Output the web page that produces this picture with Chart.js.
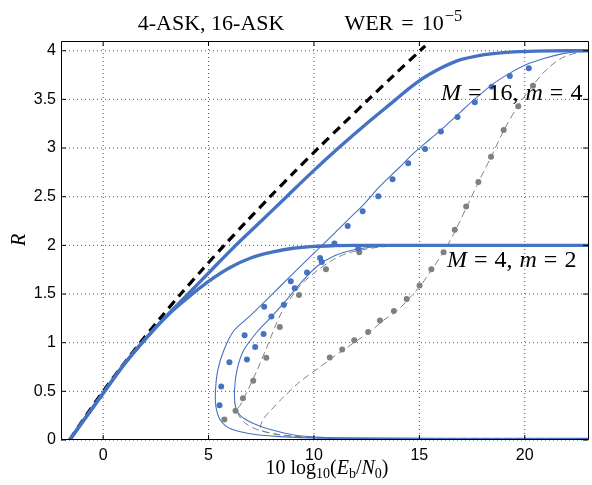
<!DOCTYPE html>
<html>
<head>
<meta charset="utf-8">
<title>4-ASK, 16-ASK rate vs Eb/N0</title>
<script src="https://cdn.jsdelivr.net/npm/chart.js@4.4.0/dist/chart.umd.min.js"></script>
<style>
  html, body { margin: 0; padding: 0; background: #fff; overflow: hidden; }
  canvas { display: block; }
</style>
</head>
<body>
<canvas id="rateChart" width="592" height="485"></canvas>
<script>
// x: 10 log10(Eb/N0) in dB, y: rate R

// Shannon limit (dashed black)
const shannonEbN0 = [-1.59, -0.82, 0, 0.86, 1.76, 2.70, 3.68, 4.70, 5.74, 6.82, 7.92, 9.05, 10.21, 11.39, 12.59, 13.80, 15.03, 15.28];
const shannonRate = [0, 0.25, 0.5, 0.75, 1.0, 1.25, 1.5, 1.75, 2.0, 2.25, 2.5, 2.75, 3.0, 3.25, 3.5, 3.75, 4.0, 4.05];

// constellation-constrained capacity, 16-ASK and 4-ASK (thick blue)
const cap16EbN0 = [-1.59, -1, -0.5, 0, 0.9, 1.86, 2.9, 4.03, 5.15, 6.29, 7.5, 8.7, 9.9, 11.16, 12.49, 13.89, 14.5, 15.06, 15.5, 16.0, 16.5, 17.0, 17.7, 18.5, 19.5, 20.5, 22, 23];
const cap16Rate = [0, 0.18, 0.33, 0.48, 0.75, 1.0, 1.25, 1.5, 1.75, 2.0, 2.25, 2.5, 2.75, 3.0, 3.25, 3.5, 3.61, 3.70, 3.76, 3.82, 3.87, 3.91, 3.945, 3.97, 3.988, 3.996, 4.0, 4.0];
const cap4EbN0 = [-1.59, -1, -0.5, 0, 1, 2, 3, 4, 5, 6, 7, 8, 9, 10, 11, 12, 23];
const cap4Rate = [0, 0.18, 0.33, 0.48, 0.78, 1.04, 1.27, 1.46, 1.63, 1.77, 1.87, 1.93, 1.97, 1.99, 1.997, 2.0, 2.0];

// finite-length curves (thin blue)
const thin16EbN0 = [23, 16, 12, 9.8, 8.24, 6.98, 6.04, 5.57, 5.35, 5.33, 5.44, 5.72, 6.19, 6.89, 7.7, 8.45, 9.2, 10.0, 10.81, 11.6, 12.4, 13.1, 14.0, 14.7, 15.5, 16.2, 17.0, 17.72, 18.5, 19.3, 20.1, 20.9, 21.7, 22.44, 23];
const thin16Rate = [0.008, 0.009, 0.015, 0.022, 0.037, 0.065, 0.116, 0.2, 0.34, 0.51, 0.72, 0.92, 1.12, 1.26, 1.43, 1.59, 1.75, 1.92, 2.09, 2.26, 2.43, 2.6, 2.79, 2.94, 3.09, 3.22, 3.38, 3.52, 3.66, 3.77, 3.86, 3.92, 3.965, 3.99, 4.0];
const thin4EbN0 = [23, 16, 12, 10.59, 9.18, 8.07, 7.13, 6.51, 6.28, 6.23, 6.35, 6.66, 7.3, 8.0, 8.7, 9.4, 10.18, 11.0, 11.9, 13.0, 14.5, 16, 23];
const thin4Rate = [0.017, 0.018, 0.022, 0.026, 0.047, 0.1, 0.17, 0.25, 0.34, 0.51, 0.72, 0.92, 1.11, 1.27, 1.44, 1.62, 1.79, 1.895, 1.955, 1.985, 1.997, 2.0, 2.0];

// finite-length curves, second approximation (gray dashed)
const gray4EbN0 = [23, 12, 10, 8.5, 7.4, 6.7, 6.35, 6.51, 6.9, 7.3, 7.77, 8.45, 9.32, 10.03, 10.81, 11.6, 12.85, 14, 16, 23];
const gray4Rate = [0.012, 0.016, 0.025, 0.05, 0.1, 0.18, 0.3, 0.36, 0.53, 0.716, 0.956, 1.305, 1.58, 1.72, 1.84, 1.92, 1.975, 1.995, 2.0, 2.0];
const gray16EbN0 = [23, 12, 9.5, 8.2, 7.5, 7.45, 7.61, 7.93, 8.55, 9.34, 10.28, 10.9, 11.5, 12.1, 12.7, 13.3, 13.95, 14.5, 15.1, 15.65, 16.2, 16.75, 17.3, 17.85, 18.45, 19.05, 19.7, 20.4, 21.1, 21.8, 22.5, 23];
const gray16Rate = [0.012, 0.016, 0.03, 0.06, 0.1, 0.13, 0.22, 0.3, 0.44, 0.6, 0.75, 0.85, 0.94, 1.03, 1.12, 1.23, 1.33, 1.45, 1.6, 1.77, 1.95, 2.17, 2.42, 2.67, 2.93, 3.2, 3.44, 3.65, 3.82, 3.93, 3.98, 4.0];

// simulated codes (dots)
const dots16BlueEbN0 = [5.52, 5.60, 5.99, 6.71, 7.64, 8.90, 9.67, 10.29, 10.97, 11.60, 12.31, 13.05, 13.73, 14.47, 15.27, 16.02, 16.81, 17.63, 18.43, 19.29, 20.19];
const dots16BlueRate = [0.356, 0.55, 0.80, 1.076, 1.37, 1.63, 1.72, 1.87, 2.02, 2.20, 2.35, 2.505, 2.68, 2.845, 2.99, 3.17, 3.32, 3.47, 3.63, 3.74, 3.82];
const dots4BlueEbN0 = [6.82, 7.21, 7.61, 7.98, 8.57, 9.09, 10.37, 12.10];
const dots4BlueRate = [0.826, 0.956, 1.09, 1.27, 1.39, 1.56, 1.83, 1.965];
const dots4GrayEbN0 = [5.75, 6.28, 6.63, 7.12, 7.74, 8.38, 9.29, 10.57, 12.15];
const dots4GrayRate = [0.21, 0.30, 0.43, 0.61, 0.845, 1.16, 1.49, 1.755, 1.93];
const dots16GrayEbN0 = [10.75, 11.34, 11.91, 12.57, 13.13, 13.79, 14.40, 15.01, 15.57, 16.15, 16.68, 17.22, 17.80, 18.40, 19.00, 19.69, 20.39];
const dots16GrayRate = [0.847, 0.93, 1.025, 1.11, 1.227, 1.325, 1.45, 1.587, 1.755, 1.93, 2.16, 2.40, 2.65, 2.91, 3.185, 3.43, 3.64];

const xTicks = [0, 5, 10, 15, 20];
const yTicks = [0, 0.5, 1, 1.5, 2, 2.5, 3, 3.5, 4];

const blue = '#4672c4';
const gray = '#808080';
const serif = '"Liberation Serif", "Times New Roman", serif';
const sans = '"Liberation Sans", Arial, sans-serif';

function pts(xs, ys) {
    return xs.map((x, i) => ({ x: x, y: ys[i] }));
}

function curve(xs, ys, color, width, dash) {
    return {
        data: pts(xs, ys),
        showLine: true,
        borderColor: color,
        borderWidth: width,
        borderDash: dash || [],
        pointRadius: 0,
        tension: 0.3,
        fill: false
    };
}

function dots(xs, ys, color) {
    return {
        data: pts(xs, ys),
        showLine: false,
        pointRadius: 3,
        pointBackgroundColor: color,
        pointBorderWidth: 0,
        pointBorderColor: color
    };
}

// text with italic parts, sub- and superscripts, plus fixed gaps
function drawRuns(ctx, runs, x, y, size, align) {
    const pieces = runs.map(r => {
        const s = r.sub ? size * 0.7 : (r.sup ? size * 0.75 : size);
        const font = (r.italic ? 'italic ' : '') + s + 'px ' + serif;
        ctx.font = font;
        const w = r.gap !== undefined ? r.gap : ctx.measureText(r.t).width;
        const dy = r.sub ? size * 0.22 : (r.sup ? -size * 0.42 : 0);
        return { t: r.t, font: font, w: w, dy: dy };
    });
    const total = pieces.reduce((a, p) => a + p.w, 0);
    let cx = align === 'center' ? x - total / 2 : x;
    ctx.textAlign = 'left';
    ctx.textBaseline = 'alphabetic';
    ctx.fillStyle = '#000';
    pieces.forEach(p => {
        if (p.t) {
            ctx.font = p.font;
            ctx.fillText(p.t, cx, y + p.dy);
        }
        cx += p.w;
    });
}

const frame = {
    id: 'frame',
    beforeDatasetsDraw(chart) {
        const { ctx, chartArea: a, scales: { x, y } } = chart;
        ctx.save();
        ctx.strokeStyle = '#555';
        ctx.lineWidth = 1;
        ctx.setLineDash([1, 3]);
        xTicks.forEach(v => {
            const px = x.getPixelForValue(v);
            ctx.beginPath(); ctx.moveTo(px, a.top); ctx.lineTo(px, a.bottom); ctx.stroke();
        });
        yTicks.forEach(v => {
            const py = y.getPixelForValue(v);
            ctx.beginPath(); ctx.moveTo(a.left, py); ctx.lineTo(a.right, py); ctx.stroke();
        });
        ctx.restore();
    },
    afterDatasetsDraw(chart) {
        const { ctx, chartArea: a, scales: { x, y } } = chart;
        ctx.save();
        ctx.strokeStyle = '#000';
        ctx.lineWidth = 1;
        ctx.beginPath();
        ctx.moveTo(a.right + 0.5, a.top + 0.5);
        ctx.lineTo(a.left + 0.5, a.top + 0.5);
        ctx.lineTo(a.left + 0.5, a.bottom - 0.5);
        ctx.lineTo(a.right + 0.5, a.bottom - 0.5);
        ctx.lineTo(a.right + 0.5, a.top + 0.5);
        ctx.stroke();
        // inward tick marks
        const len = 5;
        ctx.beginPath();
        xTicks.forEach(v => {
            const px = x.getPixelForValue(v);
            ctx.moveTo(px, a.bottom); ctx.lineTo(px, a.bottom - len);
            ctx.moveTo(px, a.top); ctx.lineTo(px, a.top + len);
        });
        yTicks.forEach(v => {
            const py = y.getPixelForValue(v);
            ctx.moveTo(a.left, py); ctx.lineTo(a.left + len, py);
            ctx.moveTo(a.right, py); ctx.lineTo(a.right - len, py);
        });
        ctx.stroke();
        ctx.restore();
    },
    afterDraw(chart) {
        const ctx = chart.ctx;
        ctx.save();
        drawRuns(ctx, [{ t: '4-ASK, 16-ASK' }, { gap: 60 }, { t: 'WER' }, { gap: 8 }, { t: '=' }, { gap: 8 },
            { t: '10' }, { gap: 1 }, { t: '\u22125', sup: true }], 300, 30, 22, 'center');
        drawRuns(ctx, [{ t: '10 log' }, { t: '10', sub: true }, { t: '(' }, { t: 'E', italic: true }, { t: 'b', sub: true },
            { t: '/' }, { t: 'N', italic: true }, { t: '0', sub: true }, { t: ')' }], 327, 474, 20, 'center');
        drawRuns(ctx, [{ t: 'M', italic: true }, { gap: 7 }, { t: '=' }, { gap: 7 }, { t: '16,' }, { gap: 7 },
            { t: 'm', italic: true }, { gap: 7 }, { t: '=' }, { gap: 7 }, { t: '4' }], 441, 100, 24, 'left');
        drawRuns(ctx, [{ t: 'M', italic: true }, { gap: 7 }, { t: '=' }, { gap: 7 }, { t: '4,' }, { gap: 7 },
            { t: 'm', italic: true }, { gap: 7 }, { t: '=' }, { gap: 7 }, { t: '2' }], 447, 267, 24, 'left');
        ctx.translate(25, 240);
        ctx.rotate(-Math.PI / 2);
        drawRuns(ctx, [{ t: 'R', italic: true }], 0, 0, 20, 'center');
        ctx.restore();
    }
};

// first dataset is drawn on top
const datasets = [
    dots(dots16BlueEbN0, dots16BlueRate, blue),
    dots(dots4BlueEbN0, dots4BlueRate, blue),
    dots(dots16GrayEbN0, dots16GrayRate, gray),
    dots(dots4GrayEbN0, dots4GrayRate, gray),
    curve(cap16EbN0, cap16Rate, blue, 3.4),
    curve(cap4EbN0, cap4Rate, blue, 3.4),
    curve(shannonEbN0, shannonRate, '#000', 3.2, [9, 6]),
    curve(thin16EbN0, thin16Rate, blue, 1.1),
    curve(thin4EbN0, thin4Rate, blue, 1.1),
    curve(gray16EbN0, gray16Rate, gray, 1, [7, 4]),
    curve(gray4EbN0, gray4Rate, gray, 1, [7, 4])
];

new Chart(document.getElementById('rateChart'), {
    type: 'scatter',
    data: { datasets: datasets },
    options: {
        responsive: false,
        animation: false,
        devicePixelRatio: 1,
        layout: { padding: { top: 41, left: 0, right: 0, bottom: 0 } },
        plugins: { legend: { display: false }, tooltip: { enabled: false }, title: { display: false } },
        scales: {
            x: {
                type: 'linear',
                min: -2,
                max: 23,
                afterBuildTicks: scale => { scale.ticks = xTicks.map(v => ({ value: v })); },
                afterFit: scale => { scale.height = 45; },
                grid: { display: false, drawTicks: false },
                border: { display: false },
                ticks: { color: '#000', padding: 6, font: { family: sans, size: 16 }, maxRotation: 0, callback: v => String(v) }
            },
            y: {
                type: 'linear',
                min: 0,
                max: 4.1,
                afterBuildTicks: scale => { scale.ticks = yTicks.map(v => ({ value: v })); },
                afterFit: scale => { scale.width = 61; },
                grid: { display: false, drawTicks: false },
                border: { display: false },
                ticks: { color: '#000', padding: 5, font: { family: sans, size: 16 }, callback: v => String(v) }
            }
        }
    },
    plugins: [frame]
});
</script>
</body>
</html>
